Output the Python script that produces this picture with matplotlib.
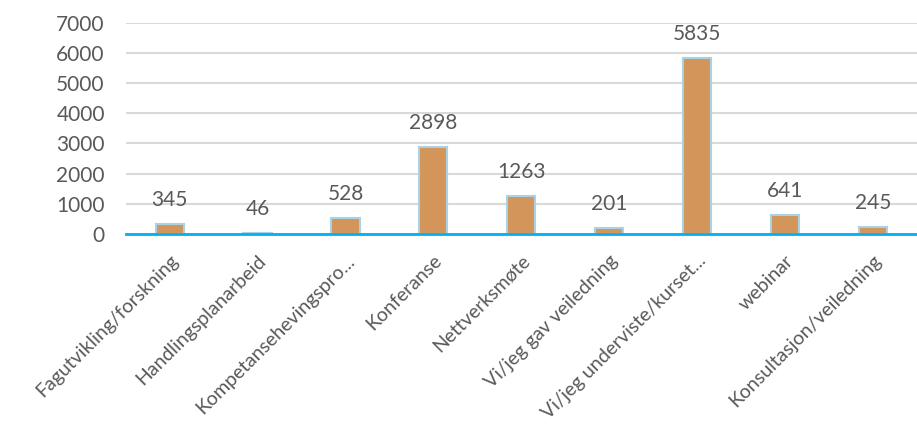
import numpy as np
import matplotlib.pyplot as plt

categories = ['Fagutvikling/forskning', 'Handlingsplanarbeid', 'Kompetansehevingspro...',
              'Konferanse', 'Nettverksmøte', 'Vi/jeg gav veiledning',
              'Vi/jeg underviste/kurset...', 'webinar', 'Konsultasjon/veiledning']
values = [345, 46, 528, 2898, 1263, 201, 5835, 641, 245]
yticks = [0, 1000, 2000, 3000, 4000, 5000, 6000, 7000]

plt.rcParams['font.family'] = ['Lato', 'DejaVu Sans']
grey = '#595959'

fig = plt.figure(figsize=(9.17, 4.30), dpi=100)
ax = fig.add_axes([0.137, 0.456, 0.863, 0.491])

x = np.arange(len(categories))
bars = ax.bar(x, values, width=0.32, color='#D4955A', edgecolor='#A9D3E4', linewidth=1.5, zorder=3)
for b, v in zip(bars, values):
    ax.annotate(str(v), (b.get_x() + b.get_width() / 2, v), xytext=(0, 10), textcoords='offset points',
                ha='center', va='bottom', fontsize=15, color=grey)

ax.set_xlim(-0.5, len(categories) - 0.5)
ax.set_ylim(0, 7000)
ax.set_yticks(yticks)
ax.set_yticklabels([str(t) for t in yticks], fontsize=15, color=grey)
ax.set_xticks(x)
ax.set_xticklabels(categories, rotation=45, ha='right', rotation_mode='anchor', fontsize=14, color=grey)
ax.tick_params(axis='both', length=0)
ax.tick_params(axis='y', pad=15)
ax.tick_params(axis='x', pad=13)
ax.yaxis.grid(True, color='#D9D9D9', linewidth=1.5, zorder=0)
for s in ['top', 'right', 'left']:
    ax.spines[s].set_visible(False)
ax.spines['bottom'].set_color('#00B0F0')
ax.spines['bottom'].set_linewidth(2)
ax.spines['bottom'].set_zorder(4)

fig.savefig('out.png', dpi=100)
